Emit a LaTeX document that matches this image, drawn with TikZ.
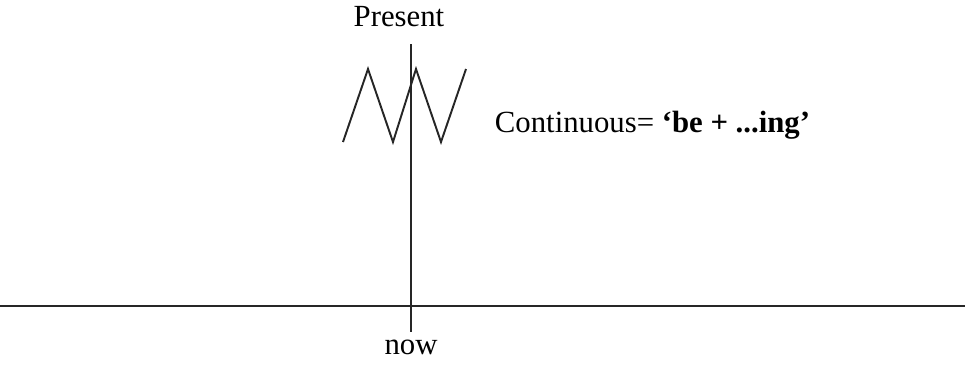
\documentclass[tikz,border=0pt]{standalone}
\usepackage{fontspec}
\setmainfont{Liberation Serif}
\usetikzlibrary{positioning}

\begin{document}
\begin{tikzpicture}[x=0.2mm, y=-0.2mm, line width=1.1pt,
    every node/.style={font=\fontsize{17.5}{20}\selectfont, inner sep=0pt},
    axis/.style={draw=black!85}]
    \useasboundingbox (0,0) rectangle (965,365);

    % time line and the present moment
    \coordinate (tl) at (0,306);
    \coordinate (tr) at (965,306);
    \coordinate (ntop) at (411,44);
    \coordinate (nbot) at (411,332);
    \draw[axis] (tl) -- (tr);
    \draw[axis] (ntop) -- (nbot);

    \node (present) at (399,17) {Present};
    \node (now) at (411,347) {now};

    % ongoing action
    \draw[axis] (343,142) -- (368,69) -- (393,142) -- (416,69) -- (441,142) -- (466,69);
    \node[anchor=base west] (cont) at (494,132) {Continuous= \textbf{`be + ...ing'}};
\end{tikzpicture}
\end{document}
